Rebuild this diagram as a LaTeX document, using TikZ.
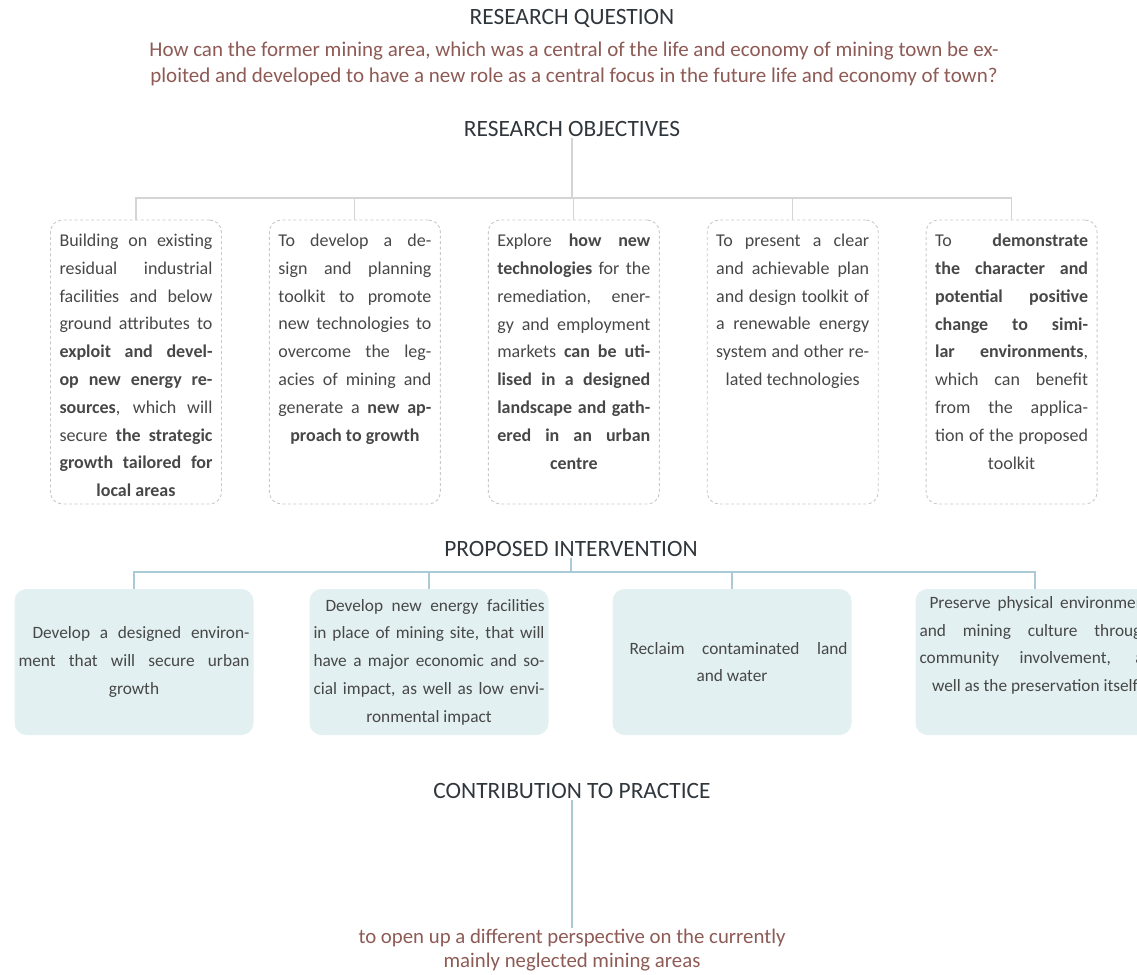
\documentclass[tikz,border=0pt]{standalone}
\usepackage{fontspec}
\setmainfont{Carlito}
\usetikzlibrary{positioning}
\definecolor{headgray}{HTML}{30373C}
\definecolor{questred}{HTML}{8E5A55}
\definecolor{bodygray}{HTML}{474747}
\definecolor{lngray}{HTML}{D4D4D4}
\definecolor{lnblue}{HTML}{A9CAD6}
\definecolor{intfill}{HTML}{E2F0F1}
\definecolor{dashgray}{HTML}{C8C8C8}
\newcommand{\jl}[1]{\makebox[\hsize][s]{#1}\\}
\newcommand{\objtext}[1]{\parbox[c][256pt][t]{153pt}{\centering\fontsize{18}{27.8}\selectfont #1}}
\newcommand{\inttext}[1]{\parbox{231pt}{\centering\fontsize{17.3}{27.7}\selectfont #1}}

\begin{document}
\begin{tikzpicture}[x=1pt, y=-1pt,
  head/.style={text=headgray, font=\fontsize{23.4}{26}\selectfont, inner sep=1pt},
  quest/.style={text=questred, align=center, font=\fontsize{21}{26}\selectfont, inner sep=1pt},
  objbox/.style={draw=dashgray, dashed, dash pattern=on 3pt off 2.5pt, line width=0.9pt, rounded corners=12pt, inner xsep=9pt, inner ysep=14pt, text=bodygray},
  intbox/.style={fill=intfill, rounded corners=12pt, minimum width=239pt, minimum height=146pt, inner xsep=4pt, text=bodygray},
  grayln/.style={draw=lngray, line width=1.1pt},
  blueln/.style={draw=lnblue, line width=1.1pt}]
  \useasboundingbox (0,0) rectangle (1137,974);
  \clip (0,0) rectangle (1137,974);

  \node[head] (qhead) at (572,18) {RESEARCH QUESTION};
  \node[quest] (quest) at (574,64) {How can the former mining area, which was a central of the life and economy of mining town be ex-\\ploited and developed to have a new role as a central focus in the future life and economy of town?};

  \node[head] (objhead) at (572,129) {RESEARCH OBJECTIVES};
  \coordinate (objbar) at (572,198);
  \node[objbox] (o1) at (136,362) {\objtext{\jl{Building on existing}\jl{residual industrial}\jl{facilities and below}\jl{ground attributes to}\jl{\textbf{exploit and devel-}}\jl{\textbf{op new energy re-}}\jl{\textbf{sources}, which will}\jl{secure \textbf{the strategic}}\jl{\textbf{growth tailored for}}\textbf{local areas}}};
  \node[objbox, right=47pt of o1] (o2) {\objtext{\jl{To develop a de-}\jl{sign and planning}\jl{toolkit to promote}\jl{new technologies to}\jl{overcome the leg-}\jl{acies of mining and}\jl{generate a \textbf{new ap-}}\textbf{proach to growth}}};
  \node[objbox, right=47pt of o2] (o3) {\objtext{\jl{Explore \textbf{how new}}\jl{\textbf{technologies} for the}\jl{remediation, ener-}\jl{gy and employment}\jl{markets \textbf{can be uti-}}\jl{\textbf{lised in a designed}}\jl{\textbf{landscape and gath-}}\jl{\textbf{ered in an urban}}\textbf{centre}}};
  \node[objbox, right=47pt of o3] (o4) {\objtext{\jl{To present a clear}\jl{and achievable plan}\jl{and design toolkit of}\jl{a renewable energy}\jl{system and other re-}lated technologies}};
  \node[objbox, right=47pt of o4] (o5) {\objtext{\jl{To \textbf{demonstrate}}\jl{\textbf{the character and}}\jl{\textbf{potential positive}}\jl{\textbf{change to simi-}}\jl{\textbf{lar environments},}\jl{which can benefit}\jl{from the applica-}\jl{tion of the proposed}toolkit}};
  \draw[grayln] (objhead) -- (objbar);
  \draw[grayln] (o1) |- (objbar) -| (o5);
  \draw[grayln] (o2) -- (o2 |- objbar);
  \draw[grayln] (o3) -- (o3 |- objbar);
  \draw[grayln] (o4) -- (o4 |- objbar);

  \node[head] (inthead) at (571,549) {PROPOSED INTERVENTION};
  \coordinate (intbar) at (571,572);
  \node[intbox] (i1) at (134,662) {\inttext{\jl{\hspace{14pt}Develop a designed environ-}\jl{ment that will secure urban}growth}};
  \node[intbox] (i2) at (429,662) {\inttext{\jl{\hspace{12pt}Develop new energy facilities}\jl{in place of mining site, that will}\jl{have a major economic and so-}\jl{cial impact, as well as low envi-}ronmental impact}};
  \node[intbox] (i3) at (732,662) {\inttext{\jl{\hspace{13pt}Reclaim contaminated land}and water}};
  \node[intbox] (i4) at (1035,662) {\inttext{\jl{\hspace{10pt}Preserve physical environment}\jl{and mining culture through}\jl{community involvement, as}well as the preservation itself\\\strut}};
  \draw[blueln] (inthead) -- (intbar);
  \draw[blueln] (i1) |- (intbar) -| (i4);
  \draw[blueln] (i2) -- (i2 |- intbar);
  \draw[blueln] (i3) -- (i3 |- intbar);

  \node[head] (conthead) at (572,791) {CONTRIBUTION TO PRACTICE};
  \node[quest, font=\fontsize{20.8}{24}\selectfont] (outcome) at (572,950) {to open up a different perspective on the currently\\mainly neglected mining areas};
  \draw[blueln] (conthead) -- (outcome);
\end{tikzpicture}
\end{document}
